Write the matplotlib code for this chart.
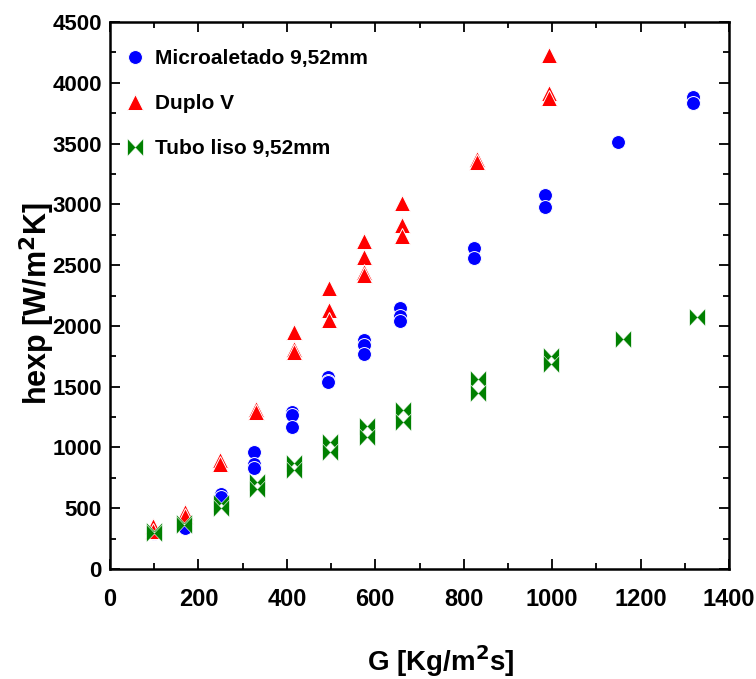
import matplotlib
matplotlib.use('Agg')
import matplotlib.pyplot as plt
from matplotlib.path import Path
from matplotlib.ticker import MultipleLocator
import numpy as np

# data
G_micro = [100, 170, 250, 250, 326, 326, 326, 412, 412, 412, 493, 493, 493,
           575, 575, 575, 656, 656, 656, 823, 823, 984, 984, 1148, 1318, 1318]
h_micro = [300, 340, 620, 595, 960, 860, 830, 1290, 1270, 1170, 1580, 1550, 1535,
           1880, 1840, 1770, 2150, 2080, 2040, 2640, 2560, 3080, 2980, 3515, 3880, 3830]

G_duplo = [97, 97, 170, 170, 249, 249, 330, 330, 416, 416, 416, 495, 495, 495,
           575, 575, 575, 575, 660, 660, 660, 830, 830, 994, 994, 994]
h_duplo = [350, 310, 470, 440, 900, 860, 1320, 1290, 1950, 1810, 1785, 2310, 2130, 2050,
           2700, 2570, 2440, 2415, 3010, 2830, 2740, 3370, 3350, 4230, 3915, 3875]

G_liso = [100, 100, 168, 168, 250, 250, 333, 333, 416, 416, 497, 497,
          581, 581, 663, 663, 832, 832, 997, 997, 1161, 1327]
h_liso = [310, 295, 375, 360, 540, 500, 715, 660, 875, 815, 1045, 960,
          1180, 1090, 1310, 1210, 1560, 1450, 1750, 1690, 1890, 2070]

# horizontal bowtie marker
bow = Path([(-0.9, -1), (0, -0.05), (0.9, -1), (0.9, 1), (0, 0.05), (-0.9, 1), (-0.9, -1)],
           [Path.MOVETO, Path.LINETO, Path.LINETO, Path.LINETO, Path.LINETO, Path.LINETO, Path.CLOSEPOLY])

plt.rcParams['font.family'] = ['Liberation Sans', 'DejaVu Sans']
plt.rcParams['font.weight'] = 'bold'

fig = plt.figure(figsize=(7.56, 6.79), dpi=100)
ax = fig.add_axes([0.1455, 0.162, 0.8188, 0.8056])

ax.plot(G_micro, h_micro, ls='none', marker='o', ms=10, mfc='blue', mec='white', mew=0.7,
        label='Microaletado 9,52mm')
ax.plot(G_duplo, h_duplo, ls='none', marker='^', ms=11.5, mfc='red', mec='white', mew=0.7,
        label='Duplo V')
ax.plot(G_liso, h_liso, ls='none', marker=bow, ms=12.5, mfc='green', mec='white', mew=0.4,
        label='Tubo liso 9,52mm')

ax.set_xlim(0, 1400)
ax.set_ylim(0, 4500)
ax.xaxis.set_major_locator(MultipleLocator(200))
ax.xaxis.set_minor_locator(MultipleLocator(100))
ax.yaxis.set_major_locator(MultipleLocator(500))
ax.yaxis.set_minor_locator(MultipleLocator(250))
ax.tick_params(which='both', direction='in', top=True, right=True, width=1.3)
ax.tick_params(which='major', length=7)
ax.tick_params(which='minor', length=4)
ax.tick_params(axis='y', labelsize=16, pad=6)
ax.tick_params(axis='x', labelsize=17, pad=14)
for lab in ax.get_xticklabels() + ax.get_yticklabels():
    lab.set_fontweight('bold')
for s in ax.spines.values():
    s.set_linewidth(1.8)

ax.set_xlabel('G [Kg/m$^\\mathbf{2}$s]', fontsize=20, fontweight='bold')
ax.xaxis.set_label_coords(0.535, -0.135)
ax.set_ylabel('hexp [W/m$^\\mathbf{2}$K]', fontsize=22, fontweight='bold')
ax.yaxis.set_label_coords(-0.086, 0.485)

leg = ax.legend(loc='upper left', bbox_to_anchor=(0.024, 0.951), frameon=False,
                labelspacing=1.25, handletextpad=0.45, handlelength=1.0,
                borderaxespad=0, borderpad=0,
                prop={'weight': 'bold', 'size': 15})

fig.savefig('out.png', dpi=100)
